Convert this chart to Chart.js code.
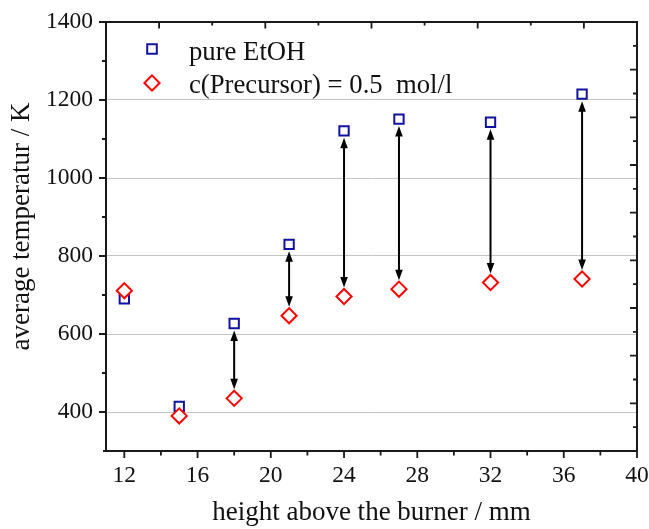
<!DOCTYPE html>
<html><head><meta charset="utf-8">
<script src="https://cdn.jsdelivr.net/npm/chart.js@4/dist/chart.umd.min.js"></script>
<style>html,body{margin:0;padding:0;background:#fff;}</style>
</head><body>
<canvas id="c" width="649" height="529" style="width:649px;height:529px;display:block"></canvas>
<script>
// ---- data ----
const heights = [12, 15, 18, 21, 24, 27, 32, 37];
const pureEtOH = [690, 414, 627, 830, 1121, 1151, 1143, 1215];
const precursor = [711, 390, 435, 647, 696, 715, 732, 741];
const arrowHeights = [18, 21, 24, 27, 32, 37];
const xTicks = [12, 16, 20, 24, 28, 32, 36, 40];
const xMinorTicks = [14, 18, 22, 26, 30, 34, 38];
const yTicks = [400, 600, 800, 1000, 1200, 1400];
const yMinorTicks = [500, 700, 900, 1100, 1300];
const topMajorTicks = [1, 3, 5, 7, 9];
const topMinorTicks = [2, 4, 6, 8];
const rightMajorTicks = [1, 2, 3, 4, 5, 6, 7, 8];
const rightMinorTicks = [0.5, 1.5, 2.5, 3.5, 4.5, 5.5, 6.5, 7.5, 8.5];
const seriesLabels = ['pure EtOH', 'c(Precursor) = 0.5  mol/l'];
const xTitle = 'height above the burner / mm';
const yTitle = 'average temperatur / K';

// ---- style ----
const FONT = "'Liberation Serif','Times New Roman',serif";
const INK = '#111111';
const BLUE = '#1212a2';
const RED = '#ff0000';
Chart.defaults.font.family = FONT;
Chart.defaults.color = INK;

function sq(ctx, x, y, half) { ctx.beginPath(); ctx.rect(x - half, y - half, 2 * half, 2 * half); }
function dia(ctx, x, y, r) { ctx.beginPath(); ctx.moveTo(x - r, y); ctx.lineTo(x, y - r); ctx.lineTo(x + r, y); ctx.lineTo(x, y + r); ctx.closePath(); }

const decor = {
  id: 'decor',
  afterDatasetsDraw(chart) {
    const ctx = chart.ctx, xs = chart.scales.x, ys = chart.scales.y;
    ctx.save();
    ctx.strokeStyle = '#000'; ctx.fillStyle = '#000'; ctx.lineWidth = 2;
    arrowHeights.forEach(h => {
      const i = heights.indexOf(h);
      const x = xs.getPixelForValue(h);
      const yTop = ys.getPixelForValue(pureEtOH[i]) + 7;
      const yBot = ys.getPixelForValue(precursor[i]) - 9;
      const hl = 10.5, hw = 3.8;
      ctx.beginPath(); ctx.moveTo(x, yTop + hl - 1); ctx.lineTo(x, yBot - hl + 1); ctx.stroke();
      ctx.beginPath(); ctx.moveTo(x, yTop); ctx.lineTo(x - hw, yTop + hl); ctx.lineTo(x + hw, yTop + hl); ctx.closePath(); ctx.fill();
      ctx.beginPath(); ctx.moveTo(x, yBot); ctx.lineTo(x - hw, yBot - hl); ctx.lineTo(x + hw, yBot - hl); ctx.closePath(); ctx.fill();
    });
    ctx.restore();
  },
  afterDraw(chart) {
    const ctx = chart.ctx, a = chart.chartArea;
    const xs = chart.scales.x, ys = chart.scales.y, x2 = chart.scales.x2, y2 = chart.scales.y2;
    ctx.save();
    // frame
    ctx.strokeStyle = '#1a1a1a'; ctx.lineWidth = 2;
    ctx.beginPath();
    ctx.moveTo(a.left - 3, a.bottom); ctx.lineTo(a.right, a.bottom);
    ctx.moveTo(a.left, a.bottom); ctx.lineTo(a.left, a.top); ctx.lineTo(a.right, a.top); ctx.lineTo(a.right, a.bottom);
    ctx.stroke();
    // ticks
    ctx.lineWidth = 1.8;
    ctx.beginPath();
    xTicks.forEach(v => { const p = xs.getPixelForValue(v); ctx.moveTo(p, a.bottom); ctx.lineTo(p, a.bottom + 7); });
    xMinorTicks.forEach(v => { const p = xs.getPixelForValue(v); ctx.moveTo(p, a.bottom); ctx.lineTo(p, a.bottom + 4.5); });
    yTicks.forEach(v => { const p = ys.getPixelForValue(v); ctx.moveTo(a.left - 7, p); ctx.lineTo(a.left, p); });
    yMinorTicks.forEach(v => { const p = ys.getPixelForValue(v); ctx.moveTo(a.left - 4, p); ctx.lineTo(a.left, p); });
    topMajorTicks.forEach(v => { const p = x2.getPixelForValue(v); ctx.moveTo(p, a.top); ctx.lineTo(p, a.top + 6.5); });
    topMinorTicks.forEach(v => { const p = x2.getPixelForValue(v); ctx.moveTo(p, a.top); ctx.lineTo(p, a.top + 3.5); });
    rightMajorTicks.forEach(v => { const p = y2.getPixelForValue(v); ctx.moveTo(a.right - 7, p); ctx.lineTo(a.right, p); });
    rightMinorTicks.forEach(v => { const p = y2.getPixelForValue(v); ctx.moveTo(a.right - 4, p); ctx.lineTo(a.right, p); });
    ctx.stroke();
    // legend
    const lx = a.left + 46, ly1 = a.top + 27, ly2 = a.top + 61;
    ctx.lineWidth = 2;
    ctx.fillStyle = '#fff';
    ctx.strokeStyle = BLUE; sq(ctx, lx, ly1, 4.8); ctx.fill(); ctx.stroke();
    ctx.strokeStyle = RED; dia(ctx, lx, ly2, 7.6); ctx.fill(); ctx.stroke();
    ctx.fillStyle = INK;
    ctx.font = "26.7px " + FONT;
    ctx.textAlign = 'left'; ctx.textBaseline = 'alphabetic';
    ctx.fillText(seriesLabels[0], a.left + 83, a.top + 37.5);
    ctx.fillText(seriesLabels[1], a.left + 83, a.top + 71);
    // y title
    ctx.translate(21.5, (a.top + a.bottom) / 2 - 10);
    ctx.rotate(-Math.PI / 2);
    ctx.font = "27px " + FONT;
    ctx.textAlign = 'center'; ctx.textBaseline = 'middle';
    ctx.fillText(yTitle, 0, 0);
    ctx.restore();
  }
};

new Chart(document.getElementById('c'), {
  type: 'scatter',
  data: {
    datasets: [
      { label: seriesLabels[0], data: heights.map((x, i) => ({ x: x, y: pureEtOH[i] })),
        pointStyle: 'rect', pointRadius: 6.6, pointHoverRadius: 6.6, borderColor: BLUE, backgroundColor: '#fff', borderWidth: 2, order: 1 },
      { label: seriesLabels[1], data: heights.map((x, i) => ({ x: x, y: precursor[i] })),
        pointStyle: 'rectRot', pointRadius: 7.6, pointHoverRadius: 7.6, borderColor: RED, backgroundColor: '#fff', borderWidth: 2, order: 0 }
    ]
  },
  options: {
    responsive: false, animation: false, events: [],
    layout: { padding: { left: 0, top: 22, right: 12, bottom: 0 } },
    plugins: { legend: { display: false }, tooltip: { enabled: false } },
    scales: {
      x: {
        type: 'linear', position: 'bottom', min: 11, max: 40,
        afterBuildTicks: s => { s.ticks = xTicks.map(v => ({ value: v })); },
        afterFit: s => { s.height = 78; s.paddingLeft = 0; s.paddingRight = 0; },
        grid: { display: false, drawTicks: false }, border: { display: false },
        ticks: { padding: 11, maxRotation: 0, autoSkip: false, font: { size: 23.5 }, color: INK, callback: v => String(v) },
        title: { display: true, text: xTitle, font: { size: 27, lineHeight: 1 }, padding: { top: 0, bottom: 3 }, color: INK }
      },
      y: {
        type: 'linear', position: 'left', min: 300, max: 1400,
        afterBuildTicks: s => { s.ticks = yTicks.map(v => ({ value: v })); },
        afterFit: s => { s.width = 106; s.paddingTop = 0; s.paddingBottom = 0; },
        grid: { color: c => (c.tick && c.tick.value === 1400) ? 'rgba(0,0,0,0)' : '#c4c4c4', lineWidth: 1, drawTicks: false },
        border: { display: false },
        ticks: { padding: 13, autoSkip: false, font: { size: 23.5 }, color: INK, callback: v => String(v) }
      },
      x2: { type: 'linear', position: 'top', display: false, min: 0, max: 10 },
      y2: { type: 'linear', position: 'right', display: false, min: 0, max: 9 }
    }
  },
  plugins: [decor]
});
</script>
</body></html>
